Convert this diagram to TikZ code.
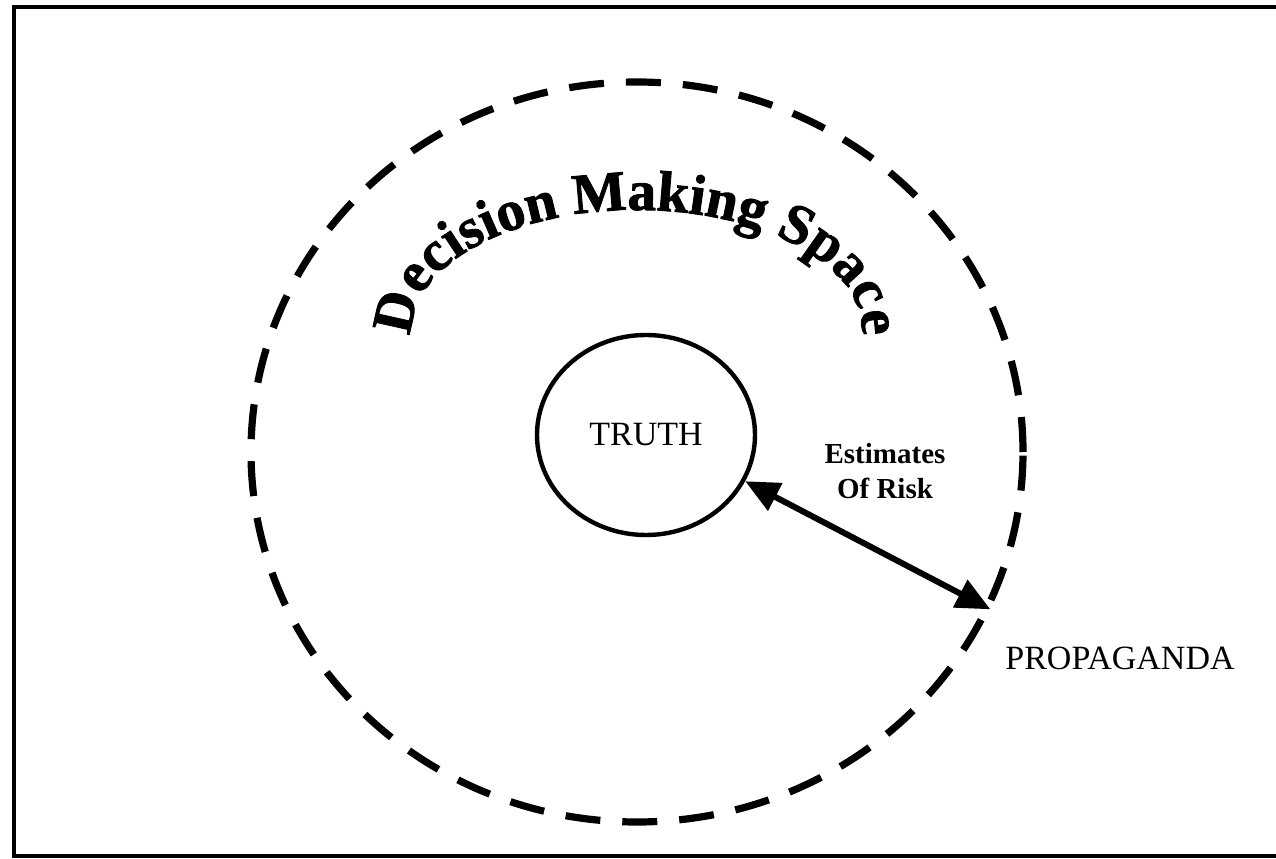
\documentclass[tikz,border=0pt]{standalone}
\usepackage{fontspec}
\setmainfont{Liberation Serif}
\newfontfamily\archfont{Liberation Serif}[BoldFeatures={FakeBold=1.5}]
\usetikzlibrary{shapes.geometric,arrows.meta,decorations.text}
\tikzset{
  frame/.style={line width=2pt},
  spaceoval/.style={ellipse, draw, dash pattern=on 17.5pt off 11pt, line width=3.6pt,
    minimum width=386pt, minimum height=370pt, inner sep=0pt},
  truthoval/.style={ellipse, draw, line width=2.2pt, minimum width=109pt,
    minimum height=100pt, inner sep=0pt, font=\fontsize{17}{20}\selectfont},
  plainlabel/.style={font=\fontsize{17}{20}\selectfont, inner sep=0pt},
  risklabel/.style={font=\bfseries\fontsize{14.5}{17.5}\selectfont, align=center, inner sep=0pt},
  riskarrow/.style={{Triangle[length=17pt,width=15pt]}-{Triangle[length=17pt,width=15pt]}, line width=3pt},
}
\begin{document}
\begin{tikzpicture}[x=0.5pt,y=0.5pt]
\useasboundingbox (0,0) rectangle (1276,858);
% open frame round the figure
\draw[frame] (1276,851) -- (14,851) -- (14,2) -- (1276,2);
% decision space and the truth inside it
\node[spaceoval] (space) at (637,406) {};
\node[truthoval] (truth) at (646,423) {TRUTH};
% arched title
\path[decorate, decoration={text along path, text align=center,
  text={|\archfont\bfseries\fontsize{28.5}{30}\selectfont|Decision Making Space}}]
  (412,528) arc[start angle=180, end angle=0, x radius=225, y radius=120];
\node[risklabel] (risk) at (885,386.5) {Estimates\\Of Risk};
\node[plainlabel, anchor=base] (propaganda) at (1120,188) {PROPAGANDA};
\draw[riskarrow] (truth.-25) -- (space.-24);
\end{tikzpicture}
\end{document}
